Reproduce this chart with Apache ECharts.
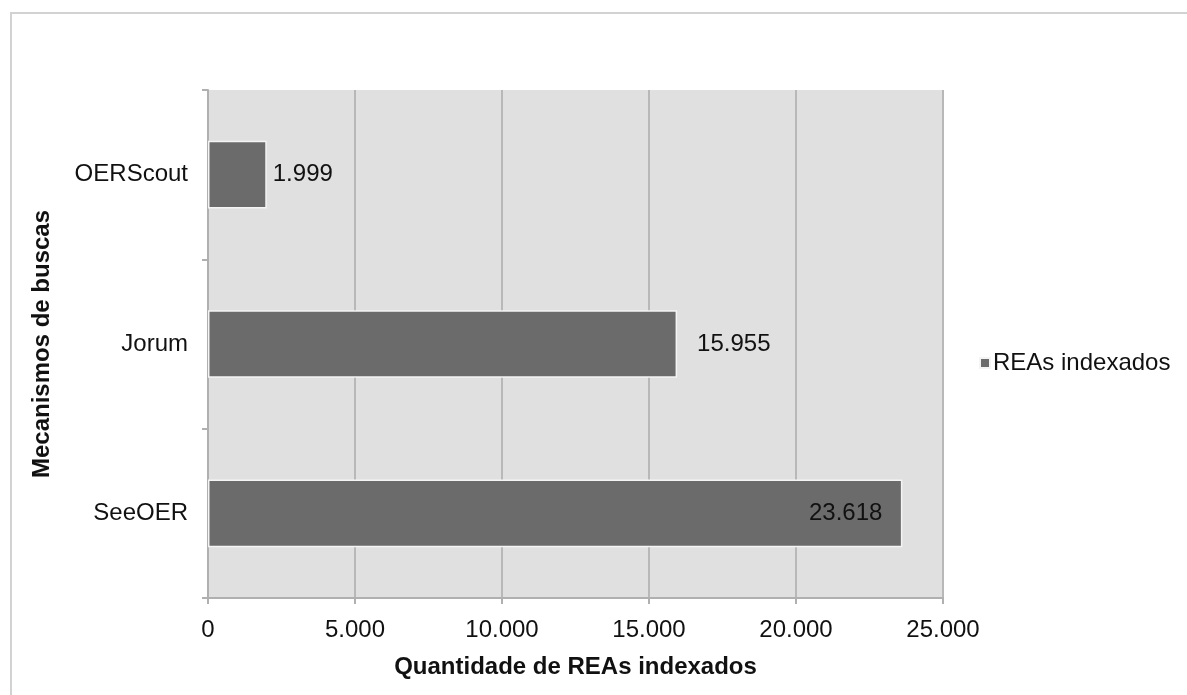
<!DOCTYPE html>
<html>
<head>
<meta charset="utf-8">
<script src="https://cdn.jsdelivr.net/npm/echarts@6/dist/echarts.min.js"></script>
<style>html,body{margin:0;padding:0;background:#fff}#c{width:1187px;height:695px}</style>
</head>
<body>
<div id="c"></div>
<script>
const categories = ['OERScout', 'Jorum', 'SeeOER'];
const values = [1999, 15955, 23618];
const labelPositions = ['right', 'right', 'insideRight'];
const labelDistances = [6, 20, 20];
const seriesName = 'REAs indexados';
const xAxisName = 'Quantidade de REAs indexados';
const yAxisName = 'Mecanismos de buscas';

function fmt(v) {
  return String(v).replace(/\B(?=(\d{3})+(?!\d))/g, '.');
}

const chart = echarts.init(document.getElementById('c'));
const font = 'Liberation Sans, Arial, sans-serif';
const FS = 24;
chart.setOption({
  animation: false,
  textStyle: { fontFamily: font },
  graphic: [{
    type: 'rect', shape: { x: 11, y: 13, width: 1200, height: 720 },
    style: { fill: 'none', stroke: '#d2d2d2', lineWidth: 2 }, z: -10
  }],
  legend: {
    data: [seriesName], left: 979, top: 351, padding: 0, icon: 'rect', itemWidth: 10, itemHeight: 10, itemGap: 4,
    textStyle: { fontSize: FS, color: '#111', fontFamily: font, padding: [0, 0, 0, -2] }
  },
  grid: { left: 208, top: 90, right: 244, bottom: 97, show: true, backgroundColor: '#e0e0e0', borderWidth: 0 },
  xAxis: {
    type: 'value', min: 0, max: 25000, interval: 5000,
    name: xAxisName, nameLocation: 'middle', nameGap: 57,
    nameTextStyle: { fontSize: FS, fontWeight: 'bold', color: '#111', fontFamily: font },
    axisLine: { show: true, lineStyle: { color: '#b0b0b0', width: 2 } },
    axisTick: { show: true, length: 6, lineStyle: { color: '#b0b0b0', width: 2 } },
    axisLabel: { fontSize: FS, color: '#111', margin: 20, formatter: fmt },
    splitLine: { show: true, lineStyle: { color: '#b8b8b8', width: 2 } }
  },
  yAxis: {
    type: 'category', data: categories, inverse: true,
    name: yAxisName, nameLocation: 'middle', nameGap: 154,
    nameTextStyle: { fontSize: FS, fontWeight: 'bold', color: '#111', fontFamily: font },
    axisLine: { show: true, lineStyle: { color: '#b0b0b0', width: 2 } },
    axisTick: { show: true, length: 6, lineStyle: { color: '#b0b0b0', width: 2 } },
    axisLabel: { fontSize: FS, color: '#111', margin: 20 },
    splitLine: { show: false }
  },
  series: [{
    name: seriesName, type: 'bar', barCategoryGap: '60%',
    itemStyle: { color: '#6b6b6b', borderColor: '#f4f4f4', borderWidth: 1.5 },
    data: values.map((v, i) => ({
      value: v,
      label: { show: true, position: labelPositions[i], distance: labelDistances[i], formatter: p => fmt(p.value), fontSize: FS, color: '#111' }
    }))
  }]
});
</script>
</body>
</html>
